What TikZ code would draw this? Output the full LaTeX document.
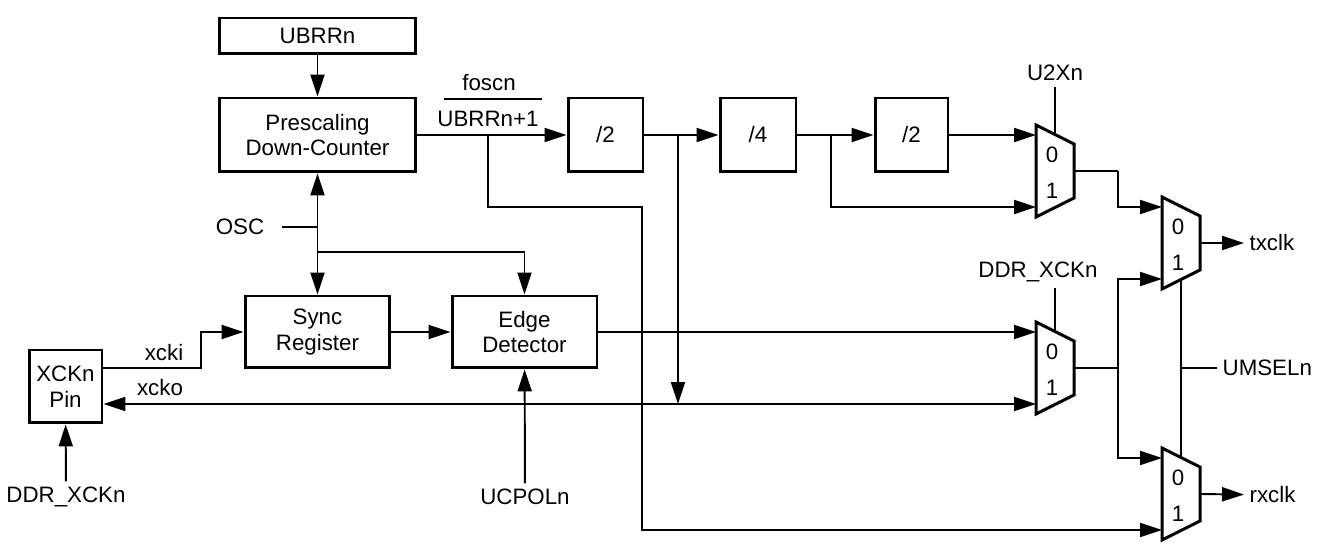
\documentclass[tikz,border=0pt]{standalone}
\usepackage{fontspec}
\setmainfont{Liberation Sans}
\usetikzlibrary{arrows.meta,positioning,calc}

\tikzset{
  blk/.style={draw, line width=1.7pt, align=center, inner sep=0pt},
  wire/.style={line width=1.1pt},
  arr/.style={wire, ->},
  sig/.style={inner sep=3pt},
  mux/.pic={
    \draw[line width=1.7pt] (-19,-46) -- (19,-27) -- (19,27) -- (-19,46) -- cycle;
    \node[inner sep=0pt] at (-3,-16) {0};
    \node[inner sep=0pt] at (-3,20) {1};
    \coordinate (-in0) at (-19,-36);
    \coordinate (-in1) at (-19,36);
    \coordinate (-out) at (19,0);
    \coordinate (-sel) at (0,-36.5);
    \coordinate (-bot) at (0,36.5);
  }
}

\begin{document}
\begin{tikzpicture}[x=0.02cm, y=-0.02cm, >={Triangle[length=12.5pt,width=8pt]},
    font=\fontsize{12.7}{14.5}\selectfont]
  \useasboundingbox (0,0) rectangle (1318,546);
  % blocks
  \node[blk, minimum width=3.94cm, minimum height=0.72cm] (ubrr) at (317.5,36) {UBRRn};
  \node[blk, minimum width=3.94cm, minimum height=1.48cm] (presc) at (317.5,135) {Prescaling\\Down-Counter};
  \node[blk, minimum width=1.5cm, minimum height=1.48cm] (div2a) at (605.5,135) {/2};
  \node[blk, minimum width=1.52cm, minimum height=1.48cm] (div4) at (758,135) {/4};
  \node[blk, minimum width=1.46cm, minimum height=1.48cm] (div2b) at (911.5,135) {/2};
  \node[blk, minimum width=2.9cm, minimum height=1.44cm] (sync) at (317.5,332) {Sync\\Register};
  \node[blk, minimum width=2.9cm, minimum height=1.44cm] (edge) at (524.5,332) {Edge\\Detector};
  \node[blk, minimum width=1.46cm, minimum height=1.46cm] (pin) at (65.5,386.5) {XCKn\\Pin};
  % muxes
  \pic (u2x) at (1055,171) {mux};
  \pic (ddr) at (1055,368) {mux};
  \pic (txm) at (1181,243) {mux};
  \pic (rxm) at (1181,494) {mux};
  % labels
  \node[sig] (fosc) at (489,83) {foscn};
  \node[sig] (ubrr1) at (488,119) {UBRRn+1};
  \node[sig] (osc) at (240,227) {OSC};
  \node[sig] (xcki) at (164,353) {xcki};
  \node[sig] (xcko) at (160,388) {xcko};
  \node[sig] (ddrb) at (66,497) {DDR\_XCKn};
  \node[sig] (ucpol) at (525,497) {UCPOLn};
  \node[sig] (u2xn) at (1055,73) {U2Xn};
  \node[sig] (ddrx) at (1038,272) {DDR\_XCKn};
  \node[sig, anchor=west] (txclk) at (1244,243) {txclk};
  \node[sig, anchor=west] (rxclk) at (1244,495) {rxclk};
  \node[sig, anchor=west] (umsel) at (1217,368) {UMSELn};
  % taps and corners
  \coordinate (tapA) at (488,135);
  \coordinate (cornA) at (642,207);
  \coordinate (tapB) at (678,135);
  \coordinate (tapC) at (831,135);
  \coordinate (oscs) at (282,227);
  \coordinate (oj) at (317.5,252);
  \coordinate (xi) at (201,368);
  \coordinate (dj) at (1118,368);
  \coordinate (uj) at (1118,171);
  \coordinate (um) at (1181,368);
  \draw[wire] (444,99) -- (542,99);
  % edges
  \draw[arr] (ubrr) -- (presc);
  \draw[arr] (presc) -- (div2a);
  \draw[arr] (div2a) -- (div4);
  \draw[arr] (div4) -- (div2b);
  \draw[arr] (div2b.east) -- (u2x-in0);
  \draw[arr] (tapA) |- (cornA) |- (rxm-in1);
  \draw[arr] (tapB) -- (tapB |- ddr-in1);
  \draw[arr] (tapC) |- (u2x-in1);
  \draw[wire] (u2xn) -- (u2x-sel);
  \draw[wire] (u2x-out) -- (uj);
  \draw[arr] (uj) |- (txm-in0);
  \draw[wire] (oscs) -- (oscs -| presc.south);
  \draw[wire, <->] (presc) -- (sync);
  \draw[arr] (oj) -| (edge);
  \draw[arr] (pin.east |- xi) -- (xi) |- (sync);
  \draw[arr] (sync) -- (edge);
  \draw[arr] (edge) -- (ddr-in0);
  \draw[wire, <->] (pin.east |- ddr-in1) -- (ddr-in1);
  \draw[arr] (ddrb) -- (pin);
  \draw[arr] (ucpol) -- (edge);
  \draw[wire] (ddrx.south -| ddr-sel) -- (ddr-sel);
  \draw[wire] (ddr-out) -- (dj);
  \draw[arr] (dj) |- (txm-in1);
  \draw[arr] (dj) |- (rxm-in0);
  \draw[wire] (txm-bot) -- (rxm-sel);
  \draw[wire] (um) -- (umsel);
  \draw[arr] (txm-out) -- (txclk);
  \draw[arr] (rxm-out) -- (rxclk);
\end{tikzpicture}
\end{document}
